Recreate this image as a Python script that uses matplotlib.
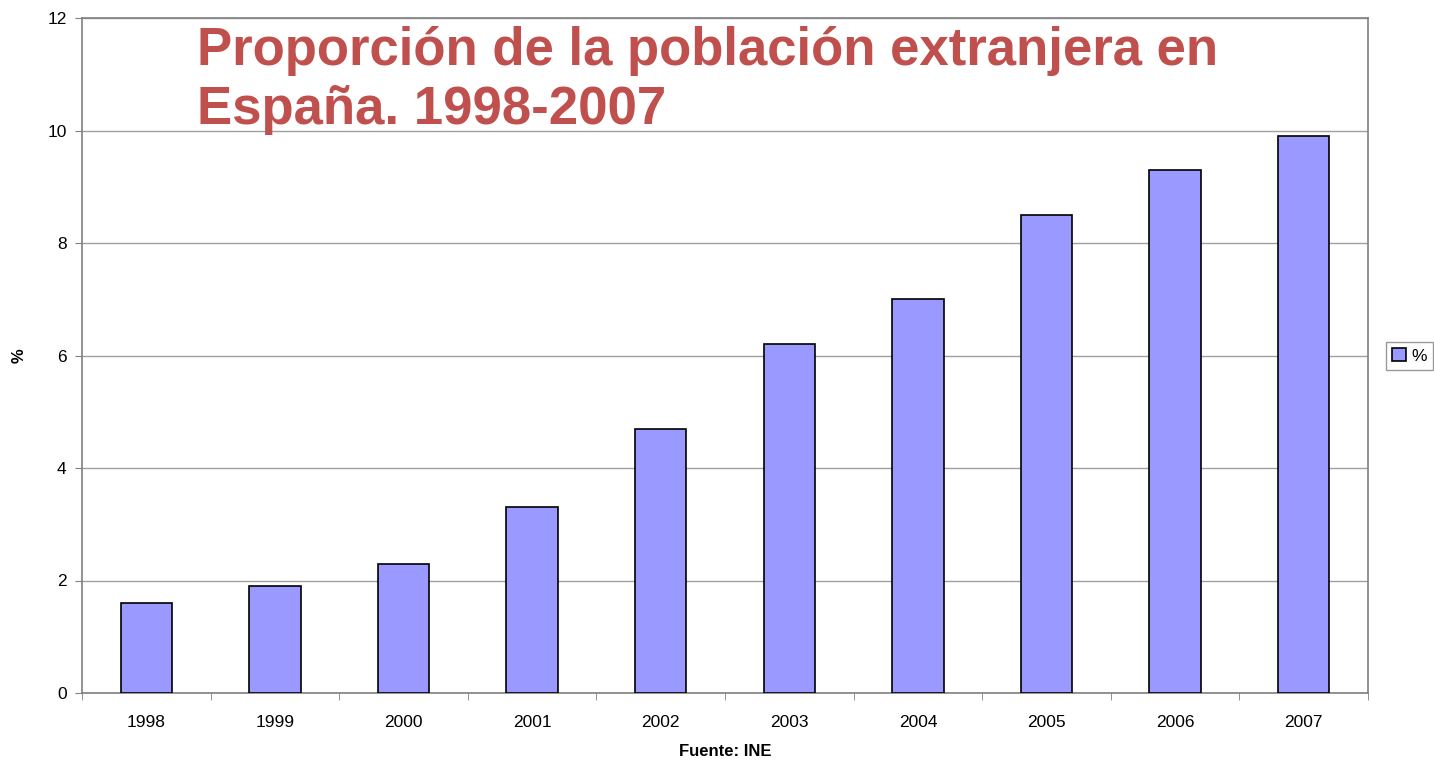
import numpy as np
import matplotlib.pyplot as plt

years = ['1998', '1999', '2000', '2001', '2002', '2003', '2004', '2005', '2006', '2007']
pct = [1.6, 1.9, 2.3, 3.3, 4.7, 6.2, 7.0, 8.5, 9.3, 9.9]

plt.rcParams['font.family'] = ['Liberation Sans', 'DejaVu Sans']

fig = plt.figure(figsize=(14.34, 7.61), dpi=100)
ax = fig.add_axes([82 / 1434, 1 - 693 / 761, (1368 - 82) / 1434, (693 - 18) / 761])

x = np.arange(len(years))
ax.bar(x, pct, width=0.4, color='#9999ff', edgecolor='black', linewidth=1.2,
       label='%', zorder=3)

ax.set_xlim(-0.5, len(years) - 0.5)
ax.set_ylim(0, 12)
ax.set_yticks(np.arange(0, 13, 2))
ax.set_xticks(x)
ax.set_xticklabels(years)
ax.set_xticks(np.arange(-0.5, len(years), 1), minor=True)
ax.tick_params(axis='x', which='major', length=0, pad=16, labelsize=12.5)
ax.tick_params(axis='x', which='minor', length=5, color='#808080')
ax.tick_params(axis='y', length=5, color='#808080', labelsize=12.5, pad=6)

ax.grid(axis='y', color='#a0a0a0', linewidth=1, zorder=0)
for s in ax.spines.values():
    s.set_color('#808080')
    s.set_linewidth(1.2)

ax.set_ylabel('%', fontweight='bold', fontsize=12)
ax.yaxis.set_label_coords(-0.043, 0.5)
ax.set_xlabel('Fuente: INE', fontweight='bold', fontsize=12, labelpad=10)

ax.text((197 - 82) / 1286, 0.988,
        'Proporción de la población extranjera en\nEspaña. 1998-2007',
        transform=ax.transAxes, color='#c0504d', fontsize=38, fontweight='bold',
        va='top', ha='left', linespacing=1.22, zorder=5)

leg = fig.legend(loc='center left', bbox_to_anchor=(1386 / 1434, 1 - 356 / 761),
                 frameon=True, fancybox=False, fontsize=12.5, handlelength=0.8,
                 handleheight=0.8, handletextpad=0.3, borderpad=0.35,
                 borderaxespad=0)
leg.get_frame().set_edgecolor('#808080')
leg.get_frame().set_linewidth(1)

fig.savefig('out.png', dpi=100)
